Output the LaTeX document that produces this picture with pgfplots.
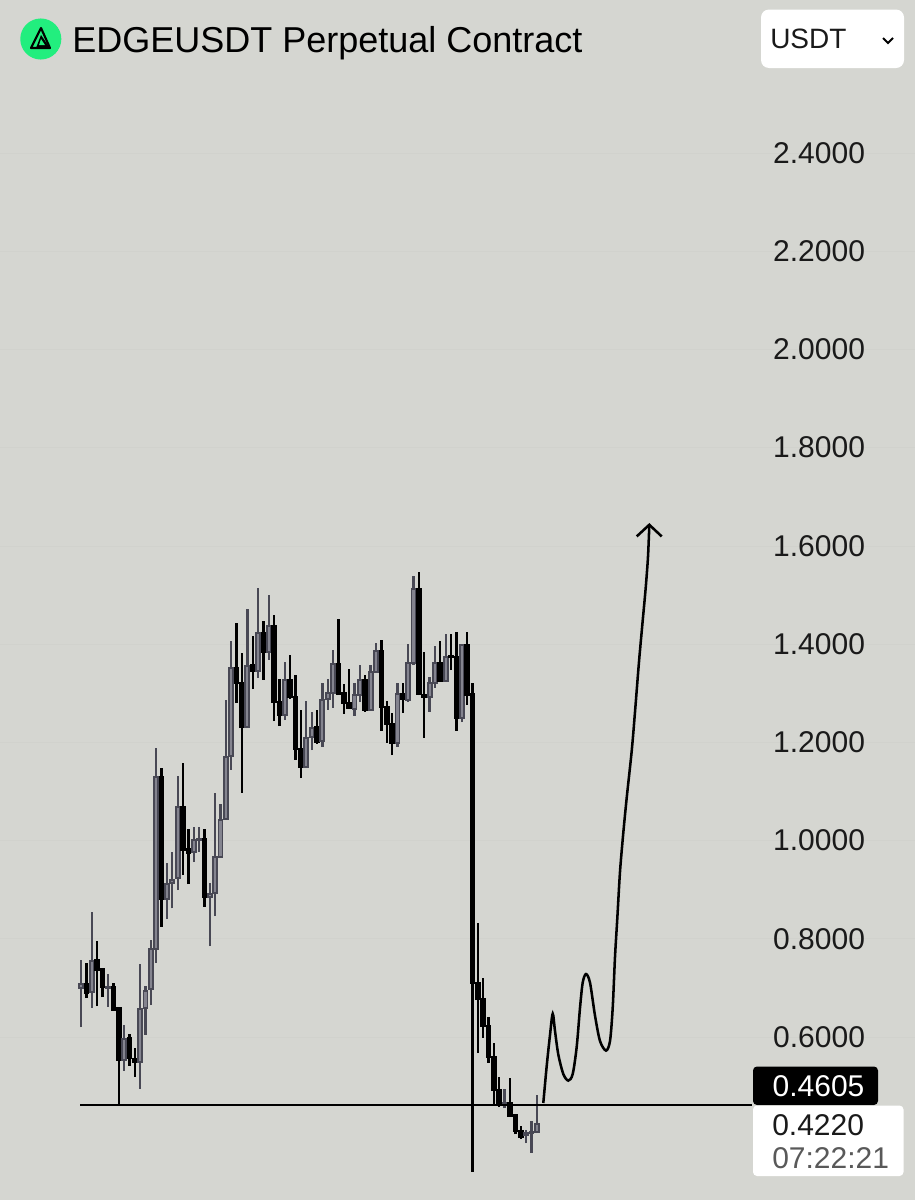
\documentclass[border=0pt]{standalone}
\usepackage{pgfplots}
\pgfplotsset{compat=1.18}
\usepackage{fontspec}
\setmainfont{Liberation Sans}
\definecolor{bgc}{HTML}{D5D6D1}
\definecolor{gridc}{HTML}{D1D2CD}
\definecolor{upc}{HTML}{484854}
\definecolor{upf}{HTML}{84848F}
\definecolor{inkc}{HTML}{1A1A1A}
\definecolor{iconc}{HTML}{22EE7E}
% candle: index, high, body top, body bottom, low
\newcommand\cu[5]{%
  \pgfmathsetmacro\cx{81.2+5.36*#1}\pgfmathsetmacro\xl{\cx-2}\pgfmathsetmacro\xr{\cx+2}%
  \addplot[draw=upc,line width=1.75pt,forget plot] coordinates {(\cx,#5) (\cx,#2)};
  \addplot[draw=upc,fill=upf,line width=1.4pt,forget plot] coordinates {(\xl,#4) (\xr,#4) (\xr,#3) (\xl,#3)} --cycle;}
\newcommand\cd[5]{%
  \pgfmathsetmacro\cx{81.2+5.36*#1}\pgfmathsetmacro\xl{\cx-1.9}\pgfmathsetmacro\xr{\cx+1.9}%
  \addplot[draw=black,line width=1.75pt,forget plot] coordinates {(\cx,#5) (\cx,#2)};
  \addplot[draw=black,fill=black,line width=1.4pt,forget plot] coordinates {(\xl,#4) (\xr,#4) (\xr,#3) (\xl,#3)} --cycle;}
\begin{document}
\begin{tikzpicture}
\useasboundingbox (0,0) rectangle (686.25pt,-900pt);
\begin{axis}[
  at={(0pt,-900pt)},anchor=south west,
  scale only axis,width=686.25pt,height=900pt,
  xmin=0,xmax=915,ymin=0.26794,ymax=2.7115,
  axis background/.style={fill=bgc},
  axis line style={draw=none},
  tick style={draw=none},
  xtick=\empty,
  ytick={0.6,0.8,1.0,1.2,1.4,1.6,1.8,2.0,2.2,2.4},
  yticklabel pos=right,
  yticklabel style={anchor=east,xshift=-34pt,font=\fontsize{22.5}{24}\selectfont,text=inkc,
    /pgf/number format/fixed,/pgf/number format/fixed zerofill,/pgf/number format/precision=4,/pgf/number format/assume math mode=true},
  ymajorgrids,grid style={gridc,line width=0.5pt},
]
\cu{0}{.757}{.708}{.700}{.620}
\cd{1}{.751}{.708}{.689}{.679}
\cu{2}{.854}{.755}{.691}{.659}
\cd{3}{.795}{.757}{.736}{.663}
\cd{4}{.740}{.738}{.702}{.681}
\cu{5}{.728}{.702}{.700}{.661}
\cd{6}{.710}{.702}{.655}{.653}
\cd{7}{.659}{.659}{.553}{.461}
\cu{8}{.624}{.596}{.553}{.531}
\cd{9}{.606}{.598}{.557}{.541}
\cd{10}{.577}{.555}{.549}{.519}
\cu{11}{.749}{.657}{.549}{.494}
\cu{12}{.704}{.694}{.659}{.604}
\cu{13}{.797}{.779}{.698}{.665}
\cu{14}{1.188}{1.129}{.779}{.751}
\cd{15}{1.148}{1.129}{.881}{.824}
\cu{16}{.954}{.911}{.881}{.840}
\cu{17}{.977}{.920}{.913}{.862}
\cu{18}{1.131}{1.068}{.924}{.899}
\cd{19}{1.158}{1.068}{.981}{.930}
\cd{20}{1.023}{.983}{.975}{.911}
\cu{21}{1.028}{1.001}{.977}{.956}
\cu{22}{1.028}{1.003}{1.001}{.977}
\cd{23}{1.023}{1.003}{.885}{.865}
\cu{24}{.913}{.891}{.885}{.785}
\cu{25}{1.097}{.966}{.893}{.846}
\cu{26}{1.074}{1.042}{.966}{.964}
\cu{27}{1.286}{1.170}{1.044}{1.042}
\cu{28}{1.406}{1.351}{1.172}{1.144}
\cd{29}{1.443}{1.351}{1.321}{1.280}
\cd{30}{1.382}{1.321}{1.231}{1.097}
\cu{31}{1.471}{1.355}{1.231}{1.229}
\cd{32}{1.416}{1.357}{1.345}{1.308}
\cu{33}{1.514}{1.423}{1.345}{1.331}
\cd{34}{1.447}{1.423}{1.384}{1.327}
\cu{35}{1.500}{1.437}{1.384}{1.368}
\cd{36}{1.459}{1.437}{1.282}{1.243}
\cd{37}{1.329}{1.282}{1.256}{1.233}
\cu{38}{1.364}{1.327}{1.256}{1.245}
\cd{39}{1.378}{1.327}{1.292}{1.288}
\cd{40}{1.337}{1.292}{1.186}{1.164}
\cd{41}{1.266}{1.186}{1.150}{1.127}
\cu{42}{1.284}{1.209}{1.150}{1.148}
\cu{43}{1.262}{1.229}{1.211}{1.184}
\cd{44}{1.266}{1.231}{1.201}{1.197}
\cu{45}{1.321}{1.286}{1.203}{1.191}
\cu{46}{1.329}{1.300}{1.288}{1.266}
\cu{47}{1.388}{1.359}{1.300}{1.270}
\cd{48}{1.451}{1.359}{1.298}{1.296}
\cd{49}{1.319}{1.300}{1.280}{1.258}
\cd{50}{1.349}{1.280}{1.270}{1.268}
\cu{51}{1.321}{1.296}{1.268}{1.254}
\cu{52}{1.357}{1.327}{1.296}{1.282}
\cd{53}{1.337}{1.327}{1.266}{1.262}
\cu{54}{1.357}{1.343}{1.266}{1.264}
\cu{55}{1.402}{1.386}{1.343}{1.341}
\cd{56}{1.408}{1.386}{1.272}{1.223}
\cd{57}{1.284}{1.272}{1.237}{1.199}
\cd{58}{1.260}{1.237}{1.199}{1.174}
\cu{59}{1.321}{1.298}{1.199}{1.191}
\cd{60}{1.321}{1.298}{1.288}{1.260}
\cu{61}{1.400}{1.361}{1.286}{1.282}
\cu{62}{1.538}{1.512}{1.361}{1.357}
\cd{63}{1.547}{1.512}{1.298}{1.296}
\cd{64}{1.384}{1.296}{1.292}{1.209}
\cu{65}{1.333}{1.321}{1.292}{1.262}
\cu{66}{1.396}{1.361}{1.321}{1.311}
\cd{67}{1.406}{1.361}{1.325}{1.323}
\cu{68}{1.420}{1.374}{1.325}{1.323}
\cd{69}{1.420}{1.376}{1.374}{1.347}
\cd{70}{1.425}{1.374}{1.249}{1.223}
\cu{71}{1.400}{1.398}{1.249}{1.241}
\cd{72}{1.425}{1.398}{1.296}{1.276}
\cd{73}{1.321}{1.298}{.710}{.325}
\cd{74}{.832}{.710}{.677}{.567}
\cd{75}{.720}{.677}{.622}{.598}
\cd{76}{.640}{.622}{.559}{.547}
\cd{77}{.588}{.559}{.492}{.463}
\cd{78}{.518}{.492}{.463}{.457}
\cu{79}{.494}{.465}{.461}{.455}
\cd{80}{.516}{.465}{.439}{.437}
\cd{81}{.441}{.441}{.408}{.402}
\cd{82}{.419}{.408}{.396}{.392}
\cu{83}{.410}{.404}{.400}{.384}
\cu{84}{.429}{.406}{.404}{.364}
\cu{85}{.482}{.422}{.406}{.404}
% horizontal level
\addplot[black,line width=1.5pt] coordinates {(80,0.4605) (752,0.4605)};
% hand-drawn projection
\addplot[black,line width=1.9pt,smooth,tension=0.5] coordinates {
(543.3,.4655)(546.7,.5408)(550,.6039)(552.7,.6473)(555,.6121)(558.3,.5642)(563.3,.5245)(568.3,.5111)
(572.7,.5245)(576.7,.5799)(580,.6591)(582.7,.7106)(586,.7281)(590,.7106)(595,.6434)(600,.5917)
(606,.5722)(610,.5917)(612.7,.6591)(615,.7628)(617.3,.8414)(620,.9364)(623.3,1.0156)(626.7,1.0869)
(631.7,1.1822)(635,1.2617)(639,1.3641)(642.5,1.4433)(645.7,1.5145)(648,1.5779)(649.3,1.6412)};
\addplot[black,line width=1.9pt,line join=miter] coordinates {(636.7,1.6192)(649.3,1.6429)(661.7,1.6192)};
\end{axis}
\begin{scope}[x=0.75pt,y=-0.75pt]
% header
\fill[iconc] (40.8,39) circle (15.4pt);
\draw[black,line width=1.6pt,line join=round] (41,28)--(50,48)--(31,48)--cycle;
\fill[black] (41,35)--(50,48)--(36,48)--cycle;
\fill[iconc] (41,39)--(45,45)--(39,45)--cycle;
\node[anchor=base west,inner sep=0pt,text=black,font=\fontsize{27}{30}\selectfont] at (72,52) {EDGEUSDT Perpetual Contract};
\fill[white,rounded corners=6pt] (761,9.5) rectangle (904,68);
\node[anchor=base west,inner sep=0pt,text=inkc,font=\fontsize{21}{24}\selectfont] at (770,48) {USDT};
\draw[black,line width=1.4pt] (883,38)--(888,43)--(893,38);
% price bubbles
\fill[black,rounded corners=3pt] (753,1066.5) rectangle (878,1105);
\fill[white,rounded corners=3pt] (753,1105.5) rectangle (903.5,1176);
\node[inner sep=0pt,text=white,font=\fontsize{22.5}{24}\selectfont] at (818.5,1086) {0.4605};
\node[anchor=west,inner sep=0pt,text=inkc,font=\fontsize{22.5}{24}\selectfont] at (772,1125) {0.4220};
\node[anchor=west,inner sep=0pt,text=black!65,font=\fontsize{22.5}{24}\selectfont] at (772,1158) {07:22:21};
\end{scope}
\end{tikzpicture}
\end{document}
